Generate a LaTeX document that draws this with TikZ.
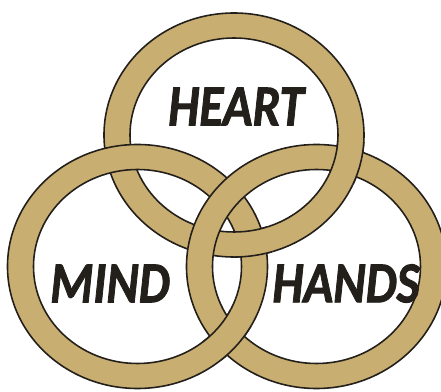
\documentclass[tikz,border=0pt]{standalone}
\usepackage{fontspec}
\usepackage{graphicx}
\newfontfamily\wordfont{Carlito}[BoldItalicFeatures={FakeBold=1.6}]
\definecolor{ringgold}{HTML}{C9AE72}
\definecolor{ringedge}{HTML}{231F1A}

% one gold ring around a centre
\newcommand{\goldring}[1]{%
  \draw[band] (#1) ellipse [x radius=130, y radius=122]
              (#1) ellipse [x radius=104, y radius=97];}

\begin{document}
\begin{tikzpicture}[x=0.02cm, y=-0.02cm,
    band/.style={fill=ringgold, draw=ringedge, line width=0.9pt, even odd rule},
    word/.style={font=\wordfont\bfseries\itshape\fontsize{33}{33}\selectfont,
                 text=ringedge, inner sep=0pt}]
  \clip (0,0) rectangle (441,392);
  \coordinate (top)   at (234,135);
  \coordinate (left)  at (137.5,266.5);
  \coordinate (right) at (316.5,266.5);

  \goldring{top}
  \goldring{left}
  \goldring{right}

  % crossings where the earlier ring lies on top
  \begin{scope}
    \clip (252,243) circle [radius=22];
    \goldring{top}
  \end{scope}
  \begin{scope}
    \clip (350,161) circle [radius=24];
    \goldring{top}
  \end{scope}
  \begin{scope}
    \clip (227,335) circle [radius=26];
    \goldring{left}
  \end{scope}

  \node[word] (heart) at (236,106.5) {\scalebox{0.85}[1]{HEART}};
  \node[word] (mind)  at (110,283.5) {\scalebox{0.85}[1]{MIND}};
  \node[word] (hands) at (346,283.5) {\scalebox{0.85}[1]{HANDS}};
\end{tikzpicture}
\end{document}
